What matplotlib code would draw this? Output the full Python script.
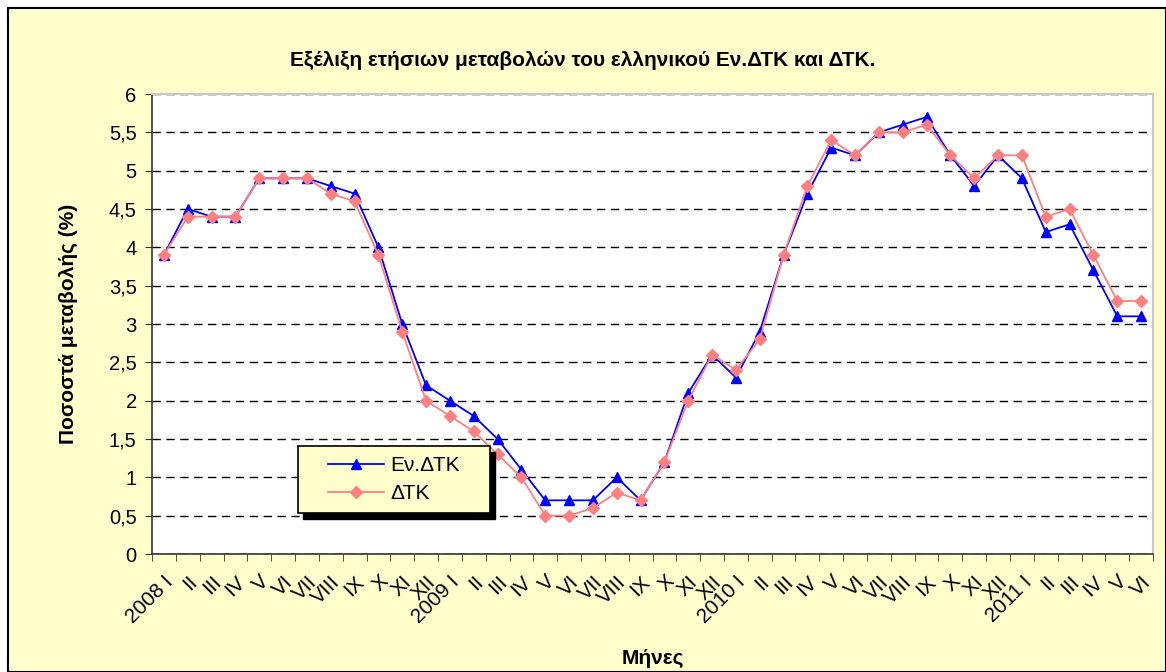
import matplotlib
matplotlib.use("Agg")
import matplotlib.pyplot as plt
from matplotlib.patches import Rectangle
from matplotlib.ticker import FixedLocator

plt.rcParams['font.family'] = ['Liberation Sans', 'DejaVu Sans']

# months 2008 I .. 2011 VI
roman = ['I', 'II', 'III', 'IV', 'V', 'VI', 'VII', 'VIII', 'IX', 'X', 'XI', 'XII']
years = [2008, 2009, 2010, 2011]
month_labels = []
for y in years:
    n = 6 if y == 2011 else 12
    for k in range(n):
        month_labels.append(f"{y} {roman[k]}" if k == 0 else roman[k])

# Εν.ΔΤΚ (HICP) annual change %
ev_dtk = [3.9, 4.5, 4.4, 4.4, 4.9, 4.9, 4.9, 4.8, 4.7, 4.0, 3.0, 2.2,
          2.0, 1.8, 1.5, 1.1, 0.7, 0.7, 0.7, 1.0, 0.7, 1.2, 2.1, 2.6,
          2.3, 2.9, 3.9, 4.7, 5.3, 5.2, 5.5, 5.6, 5.7, 5.2, 4.8, 5.2,
          4.9, 4.2, 4.3, 3.7, 3.1, 3.1]

# ΔΤΚ (CPI) annual change %
dtk = [3.9, 4.4, 4.4, 4.4, 4.9, 4.9, 4.9, 4.7, 4.6, 3.9, 2.9, 2.0,
       1.8, 1.6, 1.3, 1.0, 0.5, 0.5, 0.6, 0.8, 0.7, 1.2, 2.0, 2.6,
       2.4, 2.8, 3.9, 4.8, 5.4, 5.2, 5.5, 5.5, 5.6, 5.2, 4.9, 5.2,
       5.2, 4.4, 4.5, 3.9, 3.3, 3.3]

y_ticks = [0, 0.5, 1, 1.5, 2, 2.5, 3, 3.5, 4, 4.5, 5, 5.5, 6]

fig = plt.figure(figsize=(11.66, 6.72), dpi=100)
fig.patch.set_facecolor('white')
# chart area background with border
bg = Rectangle((8 / 1166, 0), 1 - 8 / 1166, 1 - 8 / 672,
               transform=fig.transFigure, facecolor='#FFFFCC',
               edgecolor='black', linewidth=1.5, zorder=-10)
fig.add_artist(bg)

ax = fig.add_axes([152 / 1166, 1 - 554 / 672, 1001 / 1166, 460 / 672])
ax.set_facecolor('white')

x = list(range(len(month_labels)))
ax.plot(x, ev_dtk, color='#0000FF', linewidth=1.3, marker='^', markersize=7.5,
        label='Εν.ΔΤΚ', zorder=3)
ax.plot(x, dtk, color='#FF8080', linewidth=1.3, marker='D', markersize=6.5,
        label='ΔΤΚ', zorder=4)

ax.set_xlim(-0.5, len(x) - 0.5)
ax.set_ylim(0, 6)

ax.set_yticks(y_ticks)
ax.set_yticklabels([f"{v:g}".replace('.', ',') for v in y_ticks], fontsize=14.5)
ax.yaxis.grid(True, linestyle=(0, (6, 4)), color='black', linewidth=1)
ax.set_axisbelow(True)

ax.set_xticks(x)
ax.set_xticklabels(month_labels, rotation=45, ha='right', rotation_mode='anchor',
                   fontsize=15)
ax.tick_params(axis='x', which='major', length=0, pad=13)
ax.xaxis.set_minor_locator(FixedLocator([i - 0.5 for i in range(len(x) + 1)]))
ax.tick_params(axis='x', which='minor', length=5, color='#333333')
ax.tick_params(axis='y', length=5, color='#333333', pad=6)

for side in ['left', 'bottom']:
    ax.spines[side].set_color('#333333')
    ax.spines[side].set_linewidth(1.2)
for side in ['top', 'right']:
    ax.spines[side].set_color('#C8C8C8')
    ax.spines[side].set_linewidth(1.5)

ax.set_ylabel('Ποσοστά μεταβολής (%)', fontsize=15, fontweight='bold', labelpad=22)
ax.set_xlabel('Μήνες', fontsize=15, fontweight='bold')
ax.xaxis.set_label_coords(0.5, -0.207)
fig.text(0.5, 1 - 60 / 672, 'Εξέλιξη ετήσιων μεταβολών του ελληνικού Εν.ΔΤΚ και ΔΤΚ.',
         ha='center', va='center', fontsize=15, fontweight='bold')

# legend box with a hard shadow, drawn by hand so the content sits centred
box_x, box_y, box_w, box_h = 0.146, 0.089, 0.192, 0.146
sh_dx, sh_dy = 5 / 1001, 6 / 460
ax.add_patch(Rectangle((box_x + sh_dx, box_y - sh_dy), box_w, box_h,
                       transform=ax.transAxes, facecolor='black',
                       edgecolor='black', zorder=5))
ax.add_patch(Rectangle((box_x, box_y), box_w, box_h, transform=ax.transAxes,
                       facecolor='#FFFFCC', edgecolor='black', linewidth=1.2,
                       zorder=6))
leg = ax.legend(loc='center', bbox_to_anchor=(box_x + box_w / 2, box_y + box_h / 2),
                fontsize=15, frameon=False, handlelength=2.7, handletextpad=0.3,
                labelspacing=0.45, borderpad=0)
leg.set_zorder(7)

fig.savefig('out.png', dpi=100)
